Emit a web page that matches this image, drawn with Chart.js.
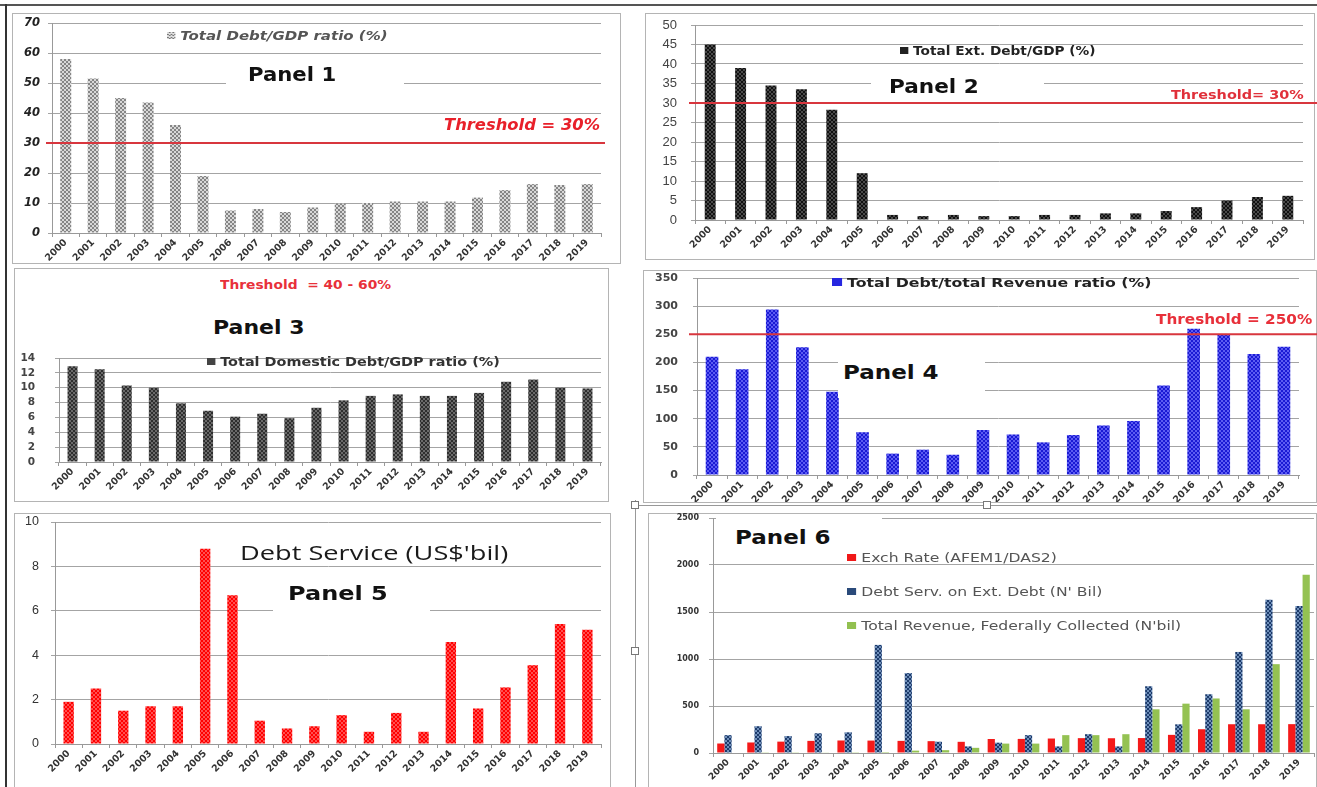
<!DOCTYPE html>
<html><head><meta charset="utf-8">
<script src="https://cdn.jsdelivr.net/npm/chart.js@4.4.1/dist/chart.umd.min.js"></script>
<style>
body{margin:0;width:1317px;height:787px;overflow:hidden;background:#fff;position:relative;font-family:"DejaVu Sans",sans-serif}
canvas{position:absolute}
.box{position:absolute;border:1px solid #b4b4b4;box-sizing:border-box}
.t{position:absolute;white-space:nowrap;line-height:1;transform-origin:0 50%}
.w{position:absolute;background:#fff}
.mk{display:inline-block;width:8px;height:8px;margin-right:4px;vertical-align:1px}
.h{position:absolute;width:8px;height:8px;border:1px solid #777;background:#fff;box-sizing:border-box}
.p{font-size:20px;font-weight:bold;color:#111}
</style></head><body>

<div style="position:absolute;left:0;top:4px;width:1317px;border-top:2px solid #555"></div>
<div style="position:absolute;left:5px;top:4px;height:783px;border-left:2px solid #333"></div>

<div class="box" style="left:12px;top:13px;width:609px;height:251px"></div>
<div class="box" style="left:645px;top:13px;width:670px;height:247px"></div>
<div class="box" style="left:14px;top:268px;width:595px;height:234px"></div>
<div class="box" style="left:643px;top:270px;width:674px;height:233px"></div>
<div class="box" style="left:14px;top:513px;width:597px;height:280px"></div>
<div class="box" style="left:648px;top:513px;width:669px;height:280px"></div>

<div style="position:absolute;left:635px;top:505px;width:682px;border-top:1px solid #999"></div>
<div style="position:absolute;left:635px;top:500px;height:287px;border-left:1px solid #999"></div>

<canvas id="c1" width="597" height="246" style="left:12px;top:15px"></canvas>
<canvas id="c2" width="668" height="239" style="left:649px;top:17px"></canvas>
<canvas id="c3" width="592" height="140" style="left:15px;top:352px"></canvas>
<canvas id="c4" width="672" height="232" style="left:645px;top:270px"></canvas>
<canvas id="c5" width="592" height="272" style="left:15px;top:514px"></canvas>
<canvas id="c6" width="666" height="275" style="left:651px;top:512px"></canvas>

<!-- Panel 1 texts -->
<div class="t" style="left:167px;top:30px;font-size:12.5px;font-weight:bold;font-style:italic;color:#555;transform:scaleX(1.2)"><span class="mk" style="width:7px;height:7px;background:repeating-conic-gradient(#777 0 25%,#ddd 0 50%) 0 0/3px 3px"></span>Total Debt/GDP ratio (%)</div>
<div class="w" style="left:226px;top:64px;width:178px;height:26px"></div>
<div class="t p" style="left:248px;top:64px;transform:scaleX(1.06)">Panel 1</div>
<div class="t" style="left:444px;top:118px;font-size:15px;font-weight:bold;font-style:italic;color:#e8202a;transform:scaleX(1.09)">Threshold = 30%</div>

<!-- Panel 2 texts -->
<div class="t" style="left:900px;top:46px;font-size:11.5px;font-weight:bold;color:#222;transform:scaleX(1.19)"><span class="mk" style="width:7px;height:7px;background:#222"></span>Total Ext. Debt/GDP (%)</div>
<div class="w" style="left:871px;top:72px;width:173px;height:24px"></div>
<div class="t p" style="left:889px;top:76px;transform:scaleX(1.08)">Panel 2</div>
<div class="t" style="left:1171px;top:88px;font-size:13px;font-weight:bold;color:#e0303a;transform:scaleX(1.11)">Threshold= 30%</div>

<!-- Panel 3 texts -->
<div class="t" style="left:220px;top:280px;font-size:11.5px;font-weight:bold;color:#e8303a;transform:scaleX(1.2)">Threshold&nbsp; = 40 - 60%</div>
<div class="t p" style="left:213px;top:317px;transform:scaleX(1.1)">Panel 3</div>
<div class="t" style="left:207px;top:356px;font-size:12px;font-weight:bold;color:#333;transform:scaleX(1.2)"><span class="mk" style="width:7px;height:7px;background:#444"></span>Total Domestic Debt/GDP ratio (%)</div>

<!-- Panel 4 texts -->
<div class="t" style="left:832px;top:277px;font-size:12.5px;font-weight:bold;color:#222;transform:scaleX(1.26)"><span class="mk" style="width:8px;height:8px;background:#2626e0"></span>Total Debt/total Revenue ratio (%)</div>
<div class="w" style="left:838px;top:352px;width:147px;height:46px"></div>
<div class="t p" style="left:843px;top:362px;transform:scaleX(1.15)">Panel 4</div>
<div class="t" style="left:1156px;top:313px;font-size:13.5px;font-weight:bold;color:#e8303a;transform:scaleX(1.13)">Threshold = 250%</div>

<!-- Panel 5 texts -->
<div class="t" style="left:240px;top:543px;font-size:20px;color:#1a1a1a;font-family:'Open Sans',sans-serif;transform:scaleX(1.36)">Debt Service (US$'bil)</div>
<div class="w" style="left:273px;top:580px;width:157px;height:36px"></div>
<div class="t p" style="left:288px;top:583px;transform:scaleX(1.2)">Panel 5</div>

<!-- Panel 6 texts -->
<div class="w" style="left:716px;top:514px;width:166px;height:40px"></div>
<div class="t p" style="left:735px;top:527px;transform:scaleX(1.15)">Panel 6</div>
<div class="t" style="left:847px;top:552px;font-size:12px;color:#555;transform:scaleX(1.3)"><span class="mk" style="width:7px;height:7px;background:#f01818"></span>Exch Rate (AFEM1/DAS2)</div>
<div class="t" style="left:847px;top:586px;font-size:12px;color:#555;transform:scaleX(1.3)"><span class="mk" style="width:7px;height:7px;background:#2a4a7a"></span>Debt Serv. on Ext. Debt (N' Bil)</div>
<div class="t" style="left:847px;top:620px;font-size:12px;color:#555;transform:scaleX(1.3)"><span class="mk" style="width:7px;height:7px;background:#92c050"></span>Total Revenue, Federally Collected (N'bil)</div>

<div class="h" style="left:631px;top:501px"></div>
<div class="h" style="left:983px;top:501px"></div>
<div class="h" style="left:631px;top:647px"></div>

<script>
// ---------- DATA ----------
const years = ['2000','2001','2002','2003','2004','2005','2006','2007','2008','2009','2010','2011','2012','2013','2014','2015','2016','2017','2018','2019'];
const totalDebtGdp = [58, 51.5, 45, 43.5, 36, 19, 7.5, 8, 7, 8.5, 9.8, 10, 10.5, 10.5, 10.5, 11.8, 14.3, 16.3, 16, 16.3];
const extDebtGdp = [45, 39, 34.5, 33.5, 28.3, 12, 1.3, 1, 1.3, 1, 1, 1.3, 1.3, 1.7, 1.7, 2.3, 3.3, 5, 5.9, 6.2];
const domDebtGdp = [12.9, 12.5, 10.3, 10, 7.9, 6.9, 6.1, 6.5, 5.9, 7.3, 8.3, 8.9, 9.1, 8.9, 8.9, 9.3, 10.8, 11.1, 10, 9.9];
const debtRevenue = [210, 188, 294, 227, 148, 76, 38, 45, 36, 80, 72, 58, 71, 88, 96, 159, 260, 249, 215, 228];
const debtService = [1.9, 2.5, 1.5, 1.7, 1.7, 8.8, 6.7, 1.05, 0.7, 0.8, 1.3, 0.55, 1.4, 0.55, 4.6, 1.6, 2.55, 3.55, 5.4, 5.15];
const exchRate = [101, 112, 121, 129, 133, 132, 129, 126, 119, 149, 150, 154, 158, 157, 159, 193, 253, 306, 306, 307];
const debtServExt = [190, 285, 180, 210, 220, 1150, 850, 120, 70, 110, 190, 70, 200, 70, 710, 305, 625, 1075, 1630, 1565];
const totalRevenue = [5, 3, 3, 4, 8, 10, 25, 30, 55, 100, 100, 190, 190, 200, 465, 525, 580, 465, 945, 1895];
const yMax = [70, 50, 14, 350, 10, 2500];
const yStep = [10, 5, 2, 50, 2, 500];
const thresholds = [30, 30, null, 250, null, null];

// ---------- helpers ----------
function pat(c1, c2){
  const cv=document.createElement('canvas'); cv.width=4; cv.height=4;
  const x=cv.getContext('2d');
  x.fillStyle=c2; x.fillRect(0,0,4,4);
  x.fillStyle=c1; x.fillRect(0,0,2,2); x.fillRect(2,2,2,2);
  return x.createPattern(cv,'repeat');
}
const threshPlugin = {
  id:'thresh',
  afterDatasetsDraw(chart, args, o){
    if(o.value==null) return;
    const y = chart.scales.y.getPixelForValue(o.value);
    const c = chart.ctx; c.save();
    c.strokeStyle = o.color; c.lineWidth = 2;
    c.beginPath();
    c.moveTo(chart.chartArea.left + (o.l||0), y);
    c.lineTo(o.toEdge ? chart.width : chart.chartArea.right + (o.r||0), y);
    c.stroke(); c.restore();
  }
};
function make(id, i, datasets, o){
  new Chart(document.getElementById(id), {
    type:'bar',
    data:{labels:years, datasets},
    plugins:[threshPlugin],
    options:{
      responsive:false, animation:false, devicePixelRatio:1,
      layout:{padding:{top:o.pt, right:o.pr, left:0, bottom:0}},
      plugins:{legend:{display:false}, tooltip:{enabled:false},
        thresh:{value:thresholds[i], color:'#d8363e', toEdge:o.toEdge, l:o.tl||0, r:o.tr||0}},
      scales:{
        x:{
          grid:{display:true, drawOnChartArea:false, offset:true, tickLength:4, color:'#999'},
          border:{color:'#999'},
          ticks:{autoSkip:false, maxRotation:45, minRotation:45, padding:0, color:'#333',
                 font:{family:'DejaVu Sans', size:o.xf||9.5, weight:'bold'}},
          afterFit(s){ s.height = o.xh; }
        },
        y:{
          min:0, max:yMax[i],
          ticks:{stepSize:yStep[i], autoSkip:false, padding:o.yp||5, color:o.yc||'#333',
                 font:o.yfont, callback:(v)=>String(v)},
          grid:{color:'#a4a4a4', tickLength:4},
          border:{color:'#999'},
          afterFit(s){ s.width = o.yw; s.paddingTop = 0; s.paddingBottom = 0; }
        }
      }
    }
  });
}
const one = (data, bg, bp) => [{data, backgroundColor:bg, barPercentage:bp, categoryPercentage:1}];

make('c1', 0, one(totalDebtGdp, pat('#858585','#d8d8d8'), 0.4),
  {pt:8, pr:8, xh:28, yw:40, tl:-6, tr:4, yp:8,
   yfont:{family:'DejaVu Sans', size:11.5, weight:'bold', style:'italic'}, yc:'#222'});
make('c2', 1, one(extDebtGdp, pat('#111','#4a4a4a'), 0.36),
  {pt:8, pr:14, xh:36, yw:46, toEdge:true, tl:-6, yp:14,
   yfont:{family:'Liberation Sans', size:13}, yc:'#444'});
make('c3', 2, one(domDebtGdp, pat('#2e2e2e','#6a6a6a'), 0.37),
  {pt:6, pr:6, xh:30, yw:44, yp:20,
   yfont:{family:'DejaVu Sans', size:10.5, weight:'bold'}, yc:'#444'});
make('c4', 3, one(debtRevenue, pat('#1a1ad4','#5c5cf2'), 0.42),
  {pt:8, pr:18, xh:27, yw:52, toEdge:true, tl:-8, yp:15,
   yfont:{family:'DejaVu Sans', size:11, weight:'bold'}, yc:'#444'});
make('c5', 4, one(debtService, pat('#ff0000','#ff5050'), 0.38),
  {pt:8, pr:6, xh:42, yw:40, yp:12,
   yfont:{family:'Liberation Sans', size:12.5}, yc:'#333'});
make('c6', 5, [
  {data:exchRate, backgroundColor:'#f41a1a', barPercentage:1, categoryPercentage:0.72},
  {data:debtServExt, backgroundColor:pat('#1c3a6a','#6f8fba'), barPercentage:1, categoryPercentage:0.72},
  {data:totalRevenue, backgroundColor:'#94c252', barPercentage:1, categoryPercentage:0.72}
], {pt:6, pr:3, xh:34, yw:62, xf:9, yp:10,
   yfont:{family:'DejaVu Sans', size:8, weight:'bold'}, yc:'#333'});
</script>
</body></html>
